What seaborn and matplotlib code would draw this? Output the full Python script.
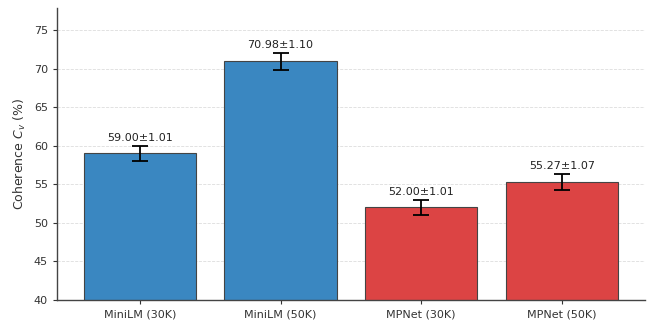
import numpy as np
import pandas as pd
import seaborn as sns
import matplotlib.pyplot as plt

# coherence scores
models = ['MiniLM (30K)', 'MiniLM (50K)', 'MPNet (30K)', 'MPNet (50K)']
means = [59.00, 70.98, 52.00, 55.27]
stds = [1.01, 1.10, 1.01, 1.07]
families = ['MiniLM', 'MiniLM', 'MPNet', 'MPNet']

df = pd.DataFrame({'model': models, 'mean': means, 'std': stds, 'family': families})

sns.set_style('white')
plt.rcParams['font.family'] = ['DejaVu Sans']

fig, ax = plt.subplots(figsize=(6.48, 3.25), dpi=100)
fig.subplots_adjust(left=0.088, right=0.995, top=0.975, bottom=0.077)

palette = {'MiniLM': '#3a87c1', 'MPNet': '#dc4444'}
sns.barplot(data=df, x='model', y='mean', hue='family', palette=palette,
            dodge=False, legend=False, width=0.8, saturation=1,
            edgecolor='#444444', linewidth=0.8, ax=ax)

x = np.arange(len(models))
ax.errorbar(x, df['mean'], yerr=df['std'], fmt='none', ecolor='black',
            elinewidth=1.3, capsize=6, capthick=1.3, zorder=5)

for xi, m, s in zip(x, df['mean'], df['std']):
    ax.text(xi, m + s + 0.4, '{:.2f}±{:.2f}'.format(m, s), ha='center', va='bottom',
            fontsize=8, color='#222222')

ax.set_ylim(40, max(m + s for m, s in zip(means, stds)) * 1.08)
ax.set_xlim(-0.59, 3.59)
ax.set_xlabel('')
ax.set_ylabel('Coherence $C_v$ (%)', fontsize=9, color='#333333')
ax.yaxis.grid(True, linestyle='--', color='#dddddd', linewidth=0.6)
ax.set_axisbelow(True)
ax.tick_params(axis='both', labelsize=8, colors='#333333', length=3, width=0.8, left=True, bottom=True)
sns.despine(ax=ax)
for sp in ['left', 'bottom']:
    ax.spines[sp].set_color('#444444')
    ax.spines[sp].set_linewidth(1.0)

plt.savefig('out.png', dpi=100)
